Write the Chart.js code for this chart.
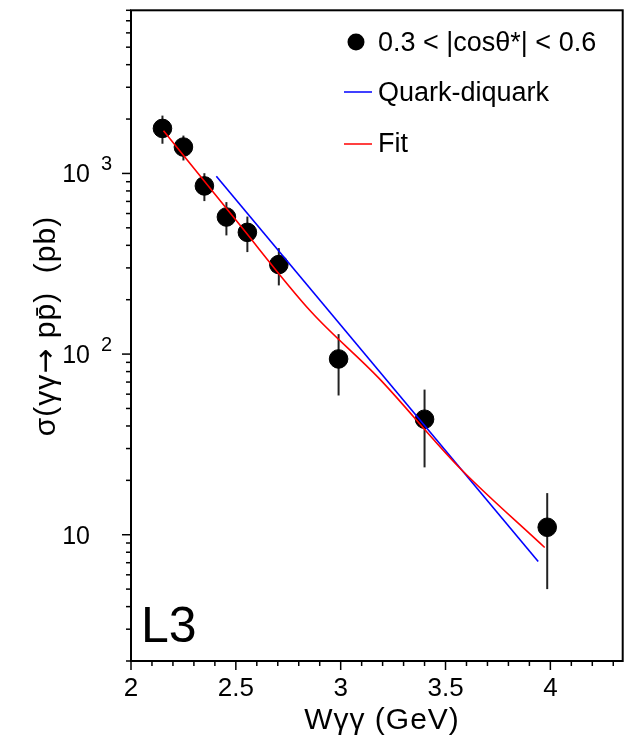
<!DOCTYPE html>
<html>
<head>
<meta charset="utf-8">
<script src="https://cdn.jsdelivr.net/npm/chart.js@4"></script>
<style>
  html, body { margin: 0; padding: 0; background: #fff; }
</style>
</head>
<body>
<canvas id="chart" width="633" height="744"></canvas>
<script>
// data
const wgg = [2.15, 2.25, 2.35, 2.455, 2.555, 2.705, 2.99, 3.40, 3.985];
const sigma = [1775, 1400, 853, 574, 472, 313, 94, 43.6, 11.0];
const sigmaErr = [315, 220, 150, 120, 105, 73, 35, 20, 6];

const qdW = [2.407, 3.942];
const qdSigma = [964, 7.1];

const fitW = [2.155, 2.5, 2.858, 3.182, 3.562, 3.973];
const fitSigma = [1722, 552, 172, 73.6, 23.8, 8.5];

const xTickLabels = [2, 2.5, 3, 3.5, 4];
const yTickLabels = [10, 100, 1000];
const yTickExp = ["", "2", "3"];

const FONT = "'Liberation Sans', Arial, sans-serif";
Chart.defaults.font.family = FONT;
Chart.defaults.color = "#000";

function pts(xs, ys){ return xs.map((x, i) => ({ x: x, y: ys[i] })); }

// draws text made of pieces with their own fonts, centred on (0,0)
function drawPieces(ctx, pieces){
  let total = 0;
  pieces.forEach(p => { ctx.font = p.font; total += ctx.measureText(p.text).width; });
  let x = -total / 2;
  ctx.textAlign = "left";
  ctx.textBaseline = "middle";
  pieces.forEach(p => {
    ctx.font = p.font;
    ctx.fillText(p.text, x, p.dy || 0);
    x += ctx.measureText(p.text).width;
  });
}

const decor = {
  id: "decor",
  beforeDatasetsDraw(chart){
    const ctx = chart.ctx, xs = chart.scales.x, ys = chart.scales.y;
    ctx.save();
    ctx.strokeStyle = "#222";
    ctx.lineWidth = 2;
    wgg.forEach((w, i) => {
      const px = xs.getPixelForValue(w);
      ctx.beginPath();
      ctx.moveTo(px, ys.getPixelForValue(sigma[i] - sigmaErr[i]));
      ctx.lineTo(px, ys.getPixelForValue(sigma[i] + sigmaErr[i]));
      ctx.stroke();
    });
    ctx.restore();
  },
  afterDraw(chart){
    const ctx = chart.ctx, a = chart.chartArea;
    const xs = chart.scales.x, ys = chart.scales.y;
    ctx.save();
    ctx.fillStyle = "#000";
    // frame
    ctx.strokeStyle = "#000";
    ctx.lineWidth = 2;
    ctx.strokeRect(a.left, a.top, a.right - a.left, a.bottom - a.top);
    // x ticks (outside, downward) + labels
    ctx.lineWidth = 1.5;
    ctx.font = "26px " + FONT;
    ctx.textAlign = "center";
    ctx.textBaseline = "middle";
    xs.ticks.forEach(t => {
      const major = xTickLabels.some(v => Math.abs(v - t.value) < 1e-6);
      const px = xs.getPixelForValue(t.value);
      ctx.beginPath();
      ctx.moveTo(px, a.bottom);
      ctx.lineTo(px, a.bottom + (major ? 9 : 5));
      ctx.stroke();
      if (major) ctx.fillText(String(Number(t.value.toFixed(1))), px, 689);
    });
    // y ticks (outside, left)
    ys.ticks.forEach(t => {
      const major = yTickLabels.includes(t.value);
      const py = ys.getPixelForValue(t.value);
      ctx.beginPath();
      ctx.moveTo(a.left, py);
      ctx.lineTo(a.left - (major ? 9 : 5), py);
      ctx.stroke();
    });
    // decade labels with exponents
    yTickLabels.forEach((v, i) => {
      const py = ys.getPixelForValue(v);
      ctx.font = "25px " + FONT;
      ctx.textAlign = "right";
      ctx.textBaseline = "middle";
      ctx.fillText("10", 90, py + 2);
      if (yTickExp[i]) {
        ctx.font = "20px " + FONT;
        ctx.textAlign = "left";
        ctx.textBaseline = "alphabetic";
        ctx.fillText(yTickExp[i], 101, py - 3);
      }
    });
    // y title
    ctx.save();
    ctx.translate(47, 326);
    ctx.rotate(-Math.PI / 2);
    ctx.letterSpacing = "1px";
    drawPieces(ctx, [
      { text: "\u03c3(\u03b3\u03b3", font: "30px " + FONT },
      { text: "\u2192", font: "30px 'DejaVu Sans'" },
      { text: " pp\u0304)  (pb)", font: "30px " + FONT }
    ]);
    ctx.restore();
    // x title
    ctx.save();
    ctx.translate(382, 721);
    ctx.letterSpacing = "1px";
    drawPieces(ctx, [{ text: "W\u03b3\u03b3 (GeV)", font: "30px " + FONT }]);
    ctx.restore();
    // legend
    ctx.font = "27px " + FONT;
    ctx.textAlign = "left";
    ctx.textBaseline = "middle";
    ctx.beginPath();
    ctx.arc(356, 42, 8.5, 0, Math.PI * 2);
    ctx.fill();
    ctx.fillText("0.3 < |cos\u03b8*| < 0.6", 378, 44);
    ctx.lineWidth = 1.5;
    ctx.strokeStyle = "#0000ff";
    ctx.beginPath(); ctx.moveTo(344, 92); ctx.lineTo(372, 92); ctx.stroke();
    ctx.fillText("Quark-diquark", 378, 94);
    ctx.strokeStyle = "#ff0000";
    ctx.beginPath(); ctx.moveTo(344, 144); ctx.lineTo(372, 144); ctx.stroke();
    ctx.fillText("Fit", 378, 145);
    // experiment tag
    ctx.font = "50px " + FONT;
    ctx.textBaseline = "alphabetic";
    ctx.fillText("L3", 141, 642);
    ctx.restore();
  }
};

new Chart(document.getElementById("chart"), {
  type: "scatter",
  data: {
    datasets: [
      { label: "Fit", data: pts(fitW, fitSigma), showLine: true, borderColor: "#ff0000",
        borderWidth: 1.6, pointRadius: 0, cubicInterpolationMode: "monotone" },
      { label: "Quark-diquark", data: pts(qdW, qdSigma), showLine: true, borderColor: "#0000ff",
        borderWidth: 1.6, pointRadius: 0, tension: 0 },
      { label: "0.3 < |cos\u03b8*| < 0.6", data: pts(wgg, sigma), backgroundColor: "#000",
        borderColor: "#000", pointRadius: 9.3, pointHoverRadius: 9.3 }
    ]
  },
  options: {
    responsive: false,
    animation: false,
    events: [],
    layout: { padding: { left: 0, right: 8, top: 7, bottom: 0 } },
    plugins: { legend: { display: false }, tooltip: { enabled: false } },
    scales: {
      x: {
        type: "linear", min: 2, max: 4.345,
        grid: { display: false, drawTicks: false },
        border: { display: false },
        afterBuildTicks(s){
          const t = [];
          for (let i = 0; i <= 23; i++) t.push({ value: Math.round((2 + i * 0.1) * 10) / 10 });
          s.ticks = t;
        },
        afterFit(s){ s.height = 83; },
        ticks: { display: false },
        title: { display: false }
      },
      y: {
        type: "logarithmic", min: 2, max: 8000,
        grid: { display: false, drawTicks: false },
        border: { display: false },
        afterBuildTicks(s){
          const t = [];
          for (let e = 0; e <= 3; e++) for (let m = 1; m <= 9; m++) {
            const v = m * Math.pow(10, e);
            if (v >= 2 && v <= 8000) t.push({ value: v });
          }
          s.ticks = t;
        },
        afterFit(s){ s.width = 131; },
        ticks: { display: false }
      }
    }
  },
  plugins: [decor]
});
</script>
</body>
</html>
